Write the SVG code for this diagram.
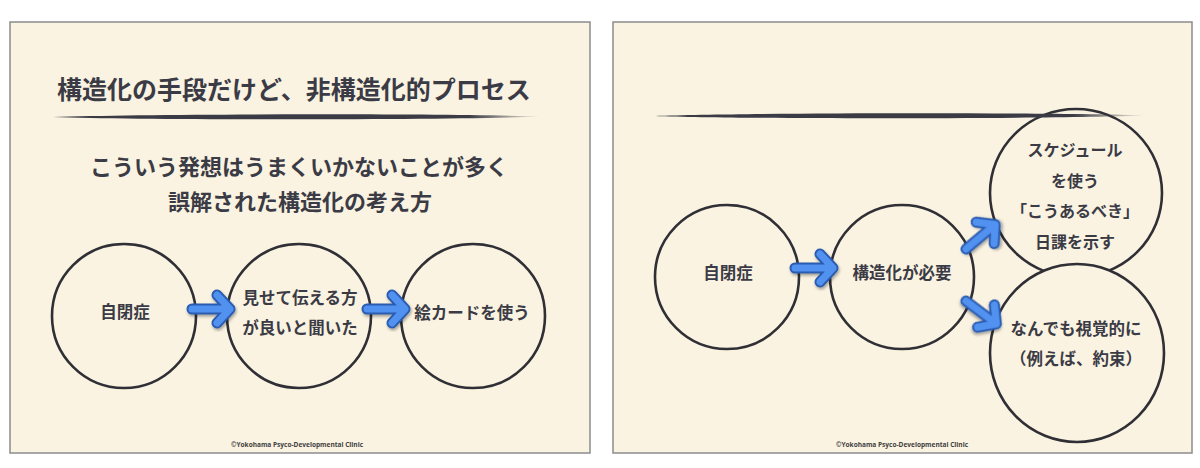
<svg xmlns="http://www.w3.org/2000/svg" xmlns:xlink="http://www.w3.org/1999/xlink" width="1200" height="468" viewBox="0 0 1200 468">
<style>
.slide{fill:#faf3e1;stroke:#8c8c8c;stroke-width:1.5}
.node{fill:#faf3e1;stroke:#2f2f35;stroke-width:2.6}
.t{font-family:"Noto Sans CJK JP","Noto Sans",sans-serif;font-weight:bold;fill:#3b3b46;text-anchor:middle;dominant-baseline:central}
.title{font-size:25px}
.sub{font-size:22px}
.lbl{font-size:16.5px}
.lbls{font-size:16px}
.foot{font-family:"Open Sans","Liberation Sans",sans-serif;font-weight:bold;font-size:7px;fill:#404040;text-anchor:middle;dominant-baseline:central}
</style>
<defs>
<linearGradient id="rule" x1="0" x2="1" y1="0" y2="0">
<stop offset="0" stop-color="#3b3b46"/>
<stop offset="0.85" stop-color="#3b3b46"/>
<stop offset="1" stop-color="#3b3b46" stop-opacity="0"/>
</linearGradient>
<filter id="sh" x="-30%" y="-30%" width="160%" height="160%">
<feDropShadow dx="1" dy="2" stdDeviation="1.5" flood-color="#000" flood-opacity="0.35"/>
</filter>
<g id="arr" filter="url(#sh)">
<path d="M0,0 H38 M25,-14 L38,0 L25,14" fill="none" stroke="#2b5bb0" stroke-width="11" stroke-linecap="round" stroke-linejoin="round"/>
<path d="M0,0 H38 M25,-14 L38,0 L25,14" fill="none" stroke="#5191ef" stroke-width="7" stroke-linecap="round" stroke-linejoin="round"/>
</g>
</defs>
<rect x="0" y="0" width="1200" height="468" fill="#ffffff"/>

<g id="slide-left">
<rect class="slide" x="10" y="22" width="580" height="431"/>
<text class="t title" x="294" y="88">構造化の手段だけど、非構造化的プロセス</text>
<path d="M53,117 C150,113.6 450,113.4 542,116.5 C450,119.8 150,120.4 53,117 Z" fill="url(#rule)"/>
<text class="t sub" x="299" y="165">こういう発想はうまくいかないことが多く</text>
<text class="t sub" x="300" y="200">誤解された構造化の考え方</text>
<text class="foot" x="297" y="444" textLength="132" lengthAdjust="spacingAndGlyphs">©Yokohama Psyco-Developmental Clinic</text>
</g>

<g id="node-l1">
<circle class="node" cx="124" cy="316" r="72"/>
<text class="t lbl" x="125" y="311">自閉症</text>
</g>
<g id="node-l2">
<circle class="node" cx="299" cy="316" r="72"/>
<text class="t lbl" x="300" y="297">見せて伝える方</text>
<text class="t lbl" x="300" y="327">が良いと聞いた</text>
</g>
<g id="node-l3">
<circle class="node" cx="473" cy="316" r="72"/>
<text class="t lbl" x="472" y="312">絵カードを使う</text>
</g>

<g id="slide-right">
<rect class="slide" x="613" y="22" width="579" height="431"/>
<text class="foot" x="902" y="444" textLength="132" lengthAdjust="spacingAndGlyphs">©Yokohama Psyco-Developmental Clinic</text>
</g>

<g id="node-r1">
<circle class="node" cx="727" cy="277" r="72"/>
<text class="t lbl" x="728" y="272">自閉症</text>
</g>
<g id="node-r2">
<circle class="node" cx="902" cy="277" r="72"/>
<text class="t lbl" x="902" y="272">構造化が必要</text>
</g>
<g id="node-r3">
<ellipse class="node" cx="1076" cy="193" rx="86" ry="84"/>
<text class="t lbls" x="1075" y="149">スケジュール</text>
<text class="t lbls" x="1075" y="180">を使う</text>
<text class="t lbls" x="1075" y="210">「こうあるべき」</text>
<text class="t lbls" x="1075" y="241">日課を示す</text>
</g>
<g id="node-r4">
<ellipse class="node" cx="1077" cy="353" rx="87" ry="89"/>
<text class="t lbl" x="1076" y="328">なんでも視覚的に</text>
<text class="t lbl" x="1076" y="358">（例えば、約束）</text>
</g>
<path id="rule-right" d="M655,116 C750,112.6 1050,112.4 1146,115.5 C1050,118.8 750,119.4 655,116 Z" fill="url(#rule)"/>

<g id="connectors">
<use xlink:href="#arr" transform="translate(192,309)"/>
<use xlink:href="#arr" transform="translate(367,309)"/>
<use xlink:href="#arr" transform="translate(795,268)"/>
<use xlink:href="#arr" transform="translate(966,249) rotate(-40)"/>
<use xlink:href="#arr" transform="translate(966,301) rotate(37)"/>
</g>
</svg>
